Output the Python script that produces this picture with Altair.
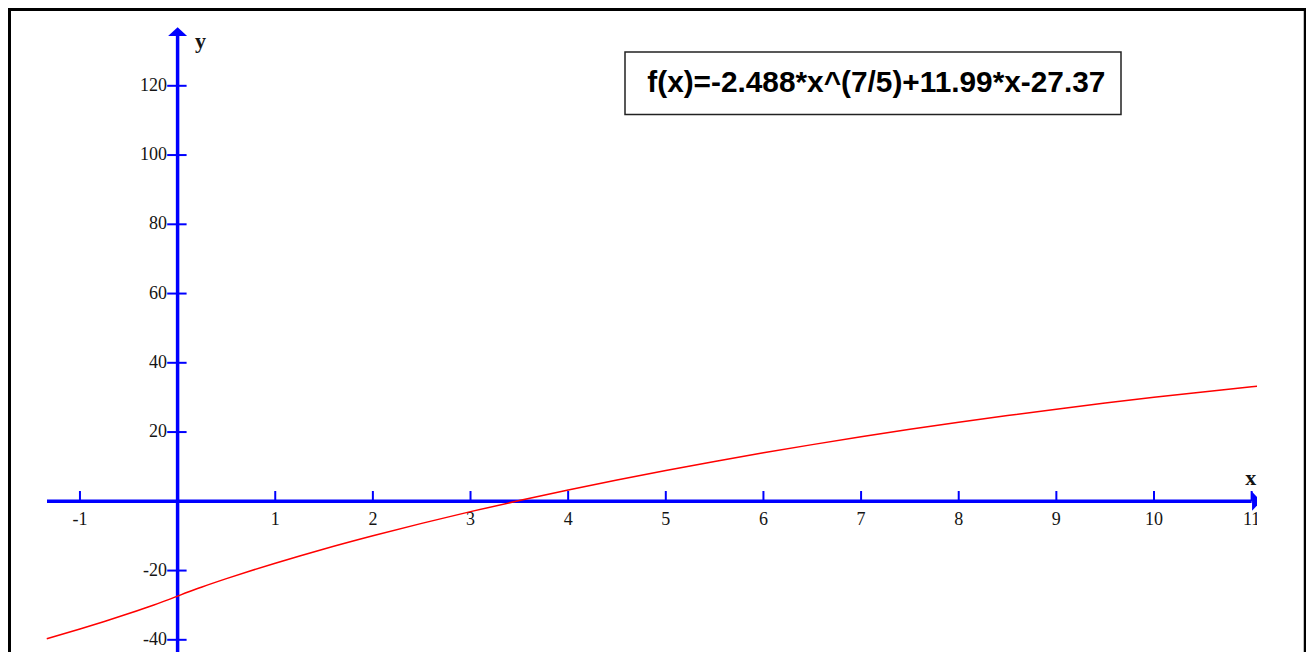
import altair as alt
import pandas as pd

# ---------------- data ----------------
curve_x = [-1.34, -1.0, -0.75, -0.5, -0.25, -0.1, 0.0, 0.1, 0.25, 0.5, 0.75, 1.0,
           1.25, 1.5, 2.0, 2.5, 3.0, 3.5, 4.0, 4.5, 5.0, 5.5, 6.0, 6.5, 7.0, 7.5,
           8.0, 8.5, 9.0, 9.5, 10.0, 10.5, 11.0, 11.08]
curve_y = [-39.69, -36.87, -34.70, -32.42, -30.01, -28.47, -27.37, -26.27, -24.73,
           -22.32, -20.04, -17.87, -15.78, -13.77, -9.96, -6.37, -2.98, 0.22, 3.26,
           6.15, 8.90, 11.51, 14.00, 16.37, 18.63, 20.78, 22.82, 24.76, 26.61,
           28.37, 30.03, 31.60, 33.09, 33.33]

x_tick_values = [-1, 1, 2, 3, 4, 5, 6, 7, 8, 9, 10, 11]
x_tick_labels = ["-1", "1", "2", "3", "4", "5", "6", "7", "8", "9", "10", "11"]
y_tick_values = [-40, -20, 20, 40, 60, 80, 100, 120]
y_tick_labels = ["-40", "-20", "20", "40", "60", "80", "100", "120"]

formula_label = "f(x)=-2.488*x^(7/5)+11.99*x-27.37"
x_axis_name = "x"
y_axis_name = "y"

# ---------------- layout / style ----------------
W, H = 1249, 644
X_DOMAIN = [-1.7370, 11.0549]
Y_DOMAIN = [-43.52, 142.47]
BLUE = "#0000FF"
RED = "#FF0000"
LABEL_COLOR = "#141414"

xs = alt.Scale(domain=X_DOMAIN, nice=False, zero=False)
ys = alt.Scale(domain=Y_DOMAIN, nice=False, zero=False)

curve_df = pd.DataFrame({"x": curve_x, "y": curve_y})
xt_df = pd.DataFrame({"v": x_tick_values, "label": x_tick_labels})
yt_df = pd.DataFrame({"v": y_tick_values, "label": y_tick_labels})
one = pd.DataFrame({"k": [0]})


def XD(v):
    return alt.XDatum(v, scale=xs, axis=None)


def YD(v):
    return alt.YDatum(v, scale=ys, axis=None)


# frame around the picture (left, top, right)
frame_left = alt.Chart(one).mark_rule(color="black", strokeWidth=3).encode(
    x=alt.value(1.5), y=alt.value(0), y2=alt.value(H))
frame_top = alt.Chart(one).mark_rule(color="black", strokeWidth=3).encode(
    x=alt.value(0), x2=alt.value(W + 49), y=alt.value(1.5))
frame_right = alt.Chart(one).mark_rule(color="black", strokeWidth=2.5).encode(
    x=alt.value(W + 48), y=alt.value(0), y2=alt.value(H))

# formula box
box = alt.Chart(one).mark_rect(fill="white", stroke="#222222", strokeWidth=1.5).encode(
    x=alt.value(617), x2=alt.value(1113), y=alt.value(44), y2=alt.value(106.5))
box_text = alt.Chart(one).mark_text(
    text=formula_label, font="Liberation Sans", fontWeight="bold", fontSize=29.8,
    align="center", baseline="alphabetic", color="black").encode(
    x=alt.value(868.3), y=alt.value(83.7))

# axes lines
x_axis = alt.Chart(one).mark_rule(color=BLUE, strokeWidth=3.5).encode(
    x=XD(-1.3376), x2=alt.X2Datum(11.0), y=YD(0))
y_axis = alt.Chart(one).mark_rule(color=BLUE, strokeWidth=3.5).encode(
    x=XD(0), y=YD(Y_DOMAIN[0]), y2=alt.Y2Datum(135.0))

x_arrow = alt.Chart(one).mark_point(
    shape="M-0.47,-1L0.47,0L-0.47,1Z", size=361, filled=True, color=BLUE,
    opacity=1, strokeWidth=0, clip=True).encode(x=XD(11.05), y=YD(0))
y_arrow = alt.Chart(one).mark_point(
    shape="M-1,0.47L1,0.47L0,-0.47Z", size=361, filled=True, color=BLUE,
    opacity=1, strokeWidth=0).encode(x=XD(0), y=YD(135.65))

# ticks
x_ticks = alt.Chart(xt_df).mark_rule(color=BLUE, strokeWidth=2, clip=True).encode(
    x=alt.X("v:Q", scale=xs, axis=None), y=YD(0), y2=alt.Y2Datum(2.97))
y_ticks = alt.Chart(yt_df).mark_rule(color=BLUE, strokeWidth=2).encode(
    x=XD(-0.1065), x2=alt.X2Datum(0.0921), y=alt.Y("v:Q", scale=ys, axis=None))

# tick labels
x_labels = alt.Chart(xt_df).mark_text(
    font="Liberation Serif", fontSize=18, align="center", baseline="alphabetic",
    dy=23.7, color=LABEL_COLOR, clip=True).encode(
    x=alt.X("v:Q", scale=xs, axis=None), y=YD(0), text="label:N")
y_labels = alt.Chart(yt_df).mark_text(
    font="Liberation Serif", fontSize=18, align="right", baseline="middle",
    dx=-10.5, color=LABEL_COLOR).encode(
    x=XD(0), y=alt.Y("v:Q", scale=ys, axis=None), text="label:N")

# axis names
y_name = alt.Chart(one).mark_text(
    text=y_axis_name, font="Liberation Serif", fontWeight="bold", fontSize=22,
    align="left", baseline="alphabetic", dx=17.4, color=LABEL_COLOR).encode(
    x=XD(0), y=YD(131.06))
x_name = alt.Chart(one).mark_text(
    text=x_axis_name, font="Liberation Serif", fontWeight="bold", fontSize=22,
    align="center", baseline="alphabetic", dy=-16.3, color=LABEL_COLOR).encode(
    x=XD(10.99), y=YD(0))

# curve
curve = alt.Chart(curve_df).mark_line(
    color=RED, strokeWidth=1.5, clip=True, interpolate="monotone").encode(
    x=alt.X("x:Q", scale=xs, axis=None), y=alt.Y("y:Q", scale=ys, axis=None))

chart = alt.layer(
    frame_left, frame_top, frame_right, box, box_text,
    x_axis, y_axis, x_arrow, y_arrow, x_ticks, y_ticks,
    x_labels, y_labels, y_name, x_name, curve,
).properties(
    width=W, height=H,
    padding={"left": 0, "top": 0, "right": 49, "bottom": 0},
    autosize=alt.AutoSizeParams(type="none"),
    background="white",
).configure_view(stroke=None)

chart.save("out.html", embed_options={"renderer": "svg", "actions": False})
